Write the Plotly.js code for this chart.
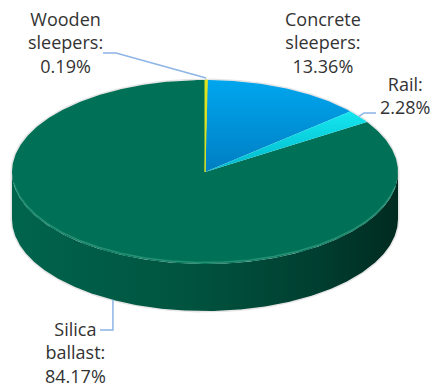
<!DOCTYPE html>
<html>
<head>
<meta charset="utf-8">
<script src="https://cdn.plot.ly/plotly-3.0.1.min.js"></script>
<style>html,body{margin:0;padding:0;background:#fff;}#chart{width:430px;height:387px;}</style>
</head>
<body>
<div id="chart"></div>
<script>
// ---- data ----
const categories = ['Wooden sleepers', 'Concrete sleepers', 'Rail', 'Silica ballast'];
const shares = [0.19, 13.36, 2.28, 84.17];
const sliceColors = ['#e8e41c', '#0096dc', '#00d6de', '#007157'];

// ---- geometry of the tilted pie (pixels) ----
const CX = 205, CY = 172, RX = 193, RY = 92, DEPTH = 47;
function pt(theta, dy) {
  const r = theta * Math.PI / 180;
  return [CX + RX * Math.sin(r), CY - RY * Math.cos(r) + (dy || 0)];
}
function arc(a0, a1, dy) {
  const xs = [], ys = [];
  const n = Math.max(2, Math.ceil(Math.abs(a1 - a0) / 0.5));
  for (let i = 0; i <= n; i++) {
    const p = pt(a0 + (a1 - a0) * i / n, dy);
    xs.push(p[0]); ys.push(p[1]);
  }
  return [xs, ys];
}

const total = shares.reduce((a, b) => a + b, 0);
const starts = [], ends = [];
let acc = 0;
shares.forEach(v => { starts.push(acc / total * 360); acc += v; ends.push(acc / total * 360); });

const traces = [];

// soft shadow outline
{
  const back = arc(-90, 90, 0);
  const front = arc(90, 270, DEPTH);
  traces.push({
    x: back[0].concat(front[0], [back[0][0]]),
    y: back[1].concat(front[1], [back[1][0]]),
    mode: 'lines', line: { color: 'rgba(0,0,0,0.10)', width: 3 },
    hoverinfo: 'skip', showlegend: false
  });
}

// side wall (front half, belongs to the slice covering 90..270 -> silica)
{
  const top = arc(90, 270, 0);
  const bot = arc(270, 90, DEPTH);
  traces.push({
    x: top[0].concat(bot[0]), y: top[1].concat(bot[1]),
    mode: 'lines', fill: 'toself', line: { width: 0, color: sliceColors[3] },
    fillcolor: '#005a45',
    fillgradient: { type: 'horizontal', colorscale: [[0, '#00644d'], [0.45, '#00543f'], [0.8, '#003e30'], [1, '#002a20']] },
    hoverinfo: 'skip', showlegend: false
  });
}

// top face slices
const gradients = [
  null,
  [[0, '#007ec2'], [1, '#00a6ee']],
  [[0, '#00b8cc'], [1, '#14e6ee']],
  null
];
const order = [3, 1, 2, 0];
order.forEach(i => {
  const a = arc(starts[i], ends[i], 0);
  const t = {
    x: [CX].concat(a[0], [CX]), y: [CY].concat(a[1], [CY]),
    mode: 'lines', fill: 'toself',
    line: { width: i === 0 ? 1 : 0, color: i === 0 ? '#d8e020' : sliceColors[i] },
    fillcolor: sliceColors[i],
    hoverinfo: 'skip', showlegend: false
  };
  if (gradients[i]) t.fillgradient = { type: 'vertical', colorscale: gradients[i] };
  traces.push(t);
});

// rim highlight on the front edge of the top face
{
  const h = arc(100, 262, -1.5);
  traces.push({
    x: h[0], y: h[1], mode: 'lines',
    line: { color: 'rgba(70,170,140,0.55)', width: 1.5 },
    hoverinfo: 'skip', showlegend: false
  });
}

// ---- labels and leader lines ----
const labelPos = [[65, 42], [323, 42], [405, 95], [75, 352]];
const annotations = categories.map((c, i) => ({
  x: labelPos[i][0], y: labelPos[i][1], xref: 'x', yref: 'y',
  text: c.replace(' ', '<br>') + ':<br>' + shares[i].toFixed(2) + '%',
  showarrow: false, xanchor: 'center', yanchor: 'middle',
  font: { family: 'Open Sans, sans-serif', size: 18, color: '#333333' }
}));

const mid = i => (starts[i] + ends[i]) / 2;
const lc = '#8cb4e6';
const leaders = [];
{
  const p = pt(mid(0), -2);
  leaders.push(`M103,53 L116,53 L${p[0]},${p[1]}`);
  const r = pt(mid(2), 0);
  leaders.push(`M${r[0]},${r[1]} L364,113 L376,113`);
  const s = pt(mid(3), DEPTH);
  leaders.push(`M${s[0]},${s[1]} L${s[0]},330 L100,330`);
}
const shapes = leaders.map(p => ({ type: 'path', path: p, xref: 'x', yref: 'y', line: { color: lc, width: 1.5 } }));

Plotly.newPlot('chart', traces, {
  width: 430, height: 387,
  margin: { l: 0, r: 0, t: 0, b: 0 },
  paper_bgcolor: '#ffffff', plot_bgcolor: '#ffffff',
  xaxis: { range: [0, 430], visible: false, fixedrange: true },
  yaxis: { range: [387, 0], visible: false, fixedrange: true },
  showlegend: false, hovermode: false,
  annotations: annotations, shapes: shapes
}, { staticPlot: true, displayModeBar: false });
</script>
</body>
</html>
